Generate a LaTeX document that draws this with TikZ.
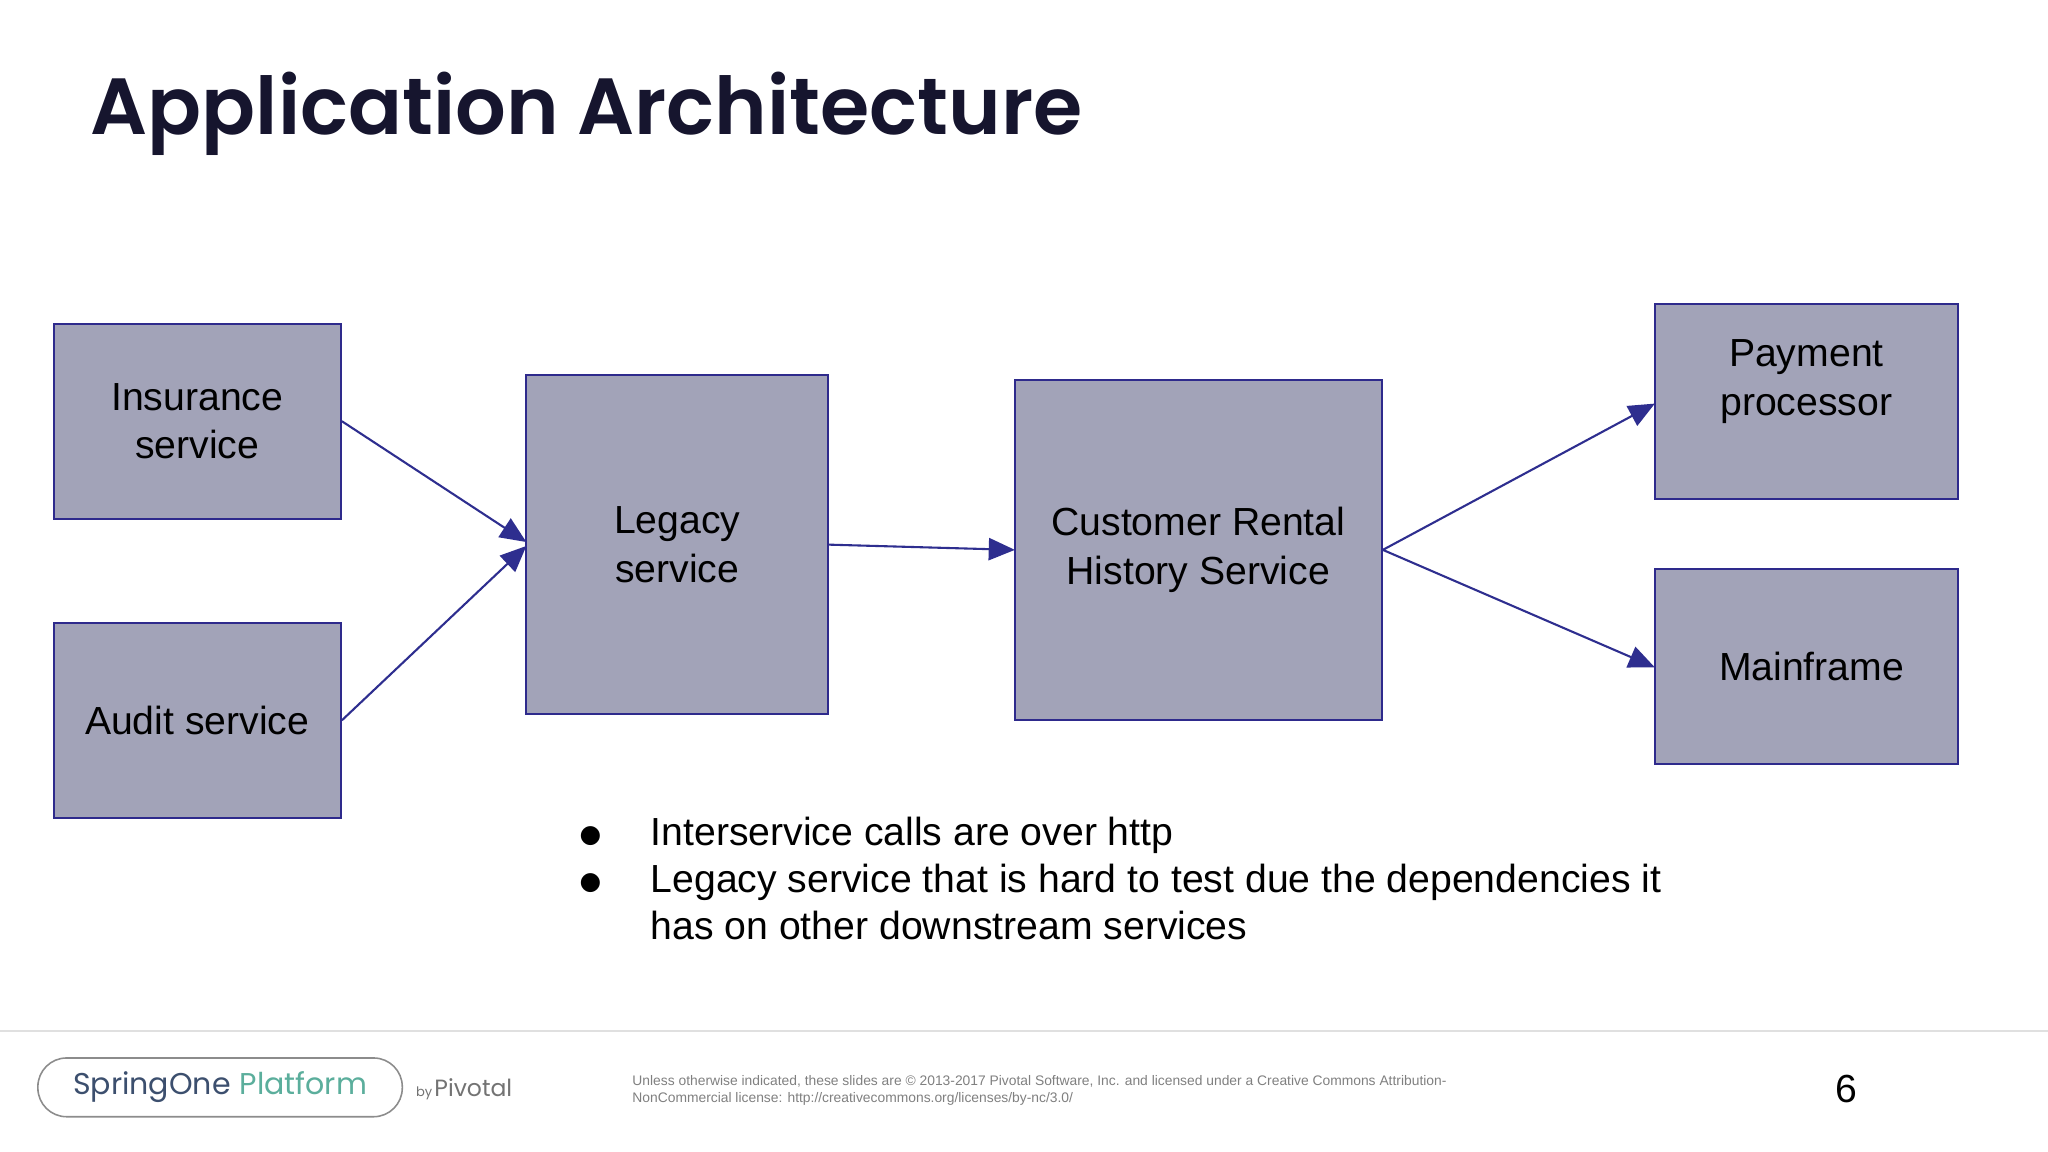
\documentclass[tikz,border=0pt]{standalone}
\usepackage{fontspec}
\setmainfont{Liberation Sans}
\newfontfamily\titlefont{Poppins}[BoldFont={* SemiBold}]
\newfontfamily\logofont{Poppins}
\newfontfamily\symfont{DejaVu Sans}
\usetikzlibrary{arrows.meta}
\definecolor{boxfill}{HTML}{A2A3B8}
\definecolor{boxline}{HTML}{2E2A8C}
\definecolor{arr}{HTML}{2E2E8F}
\definecolor{titlec}{HTML}{16152E}
\tikzset{svc/.style={draw=boxline,line width=1.5pt,fill=boxfill,align=center,font=\fontsize{30}{37}\selectfont,text=black,inner sep=0pt},
conn/.style={draw=arr,line width=1.6pt,-{Triangle[length=20pt,width=17pt]}}}
\begin{document}
\begin{tikzpicture}[x=1pt,y=-1pt]
\useasboundingbox[fill=white] (0,0) rectangle (1568,882);
\node[anchor=west,font=\titlefont\bfseries\fontsize{61}{66}\selectfont,text=titlec] (title) at (66,87) {Application Architecture};
\node[svc,minimum width=220pt,minimum height=149pt] (ins) at (151,322.5) {Insurance\\service};
\node[svc,minimum width=220pt,minimum height=149pt] (aud) at (151,551.5) {Audit service};
\node[svc,minimum width=231pt,minimum height=260pt] (leg) at (518.5,417) {Legacy\\service};
\node[svc,minimum width=281pt,minimum height=260pt] (crh) at (917.5,421) {Customer Rental\\History Service};
\node[svc,minimum width=232pt,minimum height=149pt] (pay) at (1383,307.5) {Payment\\processor\\[0pt]};
\node[svc,minimum width=232pt,minimum height=149pt] (mf) at (1383,510.5) {\hspace*{8pt}Mainframe};
\coordinate (l1) at (403,415);
\coordinate (l2) at (403,418);
\coordinate (c1) at (777,421);
\coordinate (p1) at (1267,309);
\coordinate (m1) at (1267,511);
\draw[conn] (ins.east) -- (l1);
\draw[conn] (aud.east) -- (l2);
\draw[conn] (leg.east) -- (c1);
\draw[conn] (crh.east) -- (p1);
\draw[conn] (crh.east) -- (m1);
\begin{scope}[font=\fontsize{30}{36}\selectfont]
\node[anchor=base] (b1) at (452,645) {\symfont\fontsize{19}{19}\selectfont ●};
\node[anchor=base west,inner sep=0pt] (t1) at (498,647) {Interservice calls are over http};
\node[anchor=base] (b2) at (452,681) {\symfont\fontsize{19}{19}\selectfont ●};
\node[anchor=base west,inner sep=0pt] (t2) at (498,683) {Legacy service that is hard to test due the dependencies it};
\node[anchor=base west,inner sep=0pt] (t3) at (498,719) {has on other downstream services};
\end{scope}
\draw[draw=black!12,line width=1.5pt] (0,789) -- (1568,789);
\node[draw=black!45,line width=1.2pt,rounded corners=22pt,minimum width=279pt,minimum height=45pt,font=\logofont\fontsize{23}{23}\selectfont] (logo) at (168.5,832.5) {\textcolor[HTML]{3C4F6E}{SpringOne}\hspace{7pt}\textcolor[HTML]{5BAE9C}{Platform}};
\node[anchor=west,text=black!55,font=\logofont] (piv) at (315,834) {{\fontsize{10}{10}\selectfont by}\,{\fontsize{18}{18}\selectfont Pivotal}};
\node[anchor=north west,align=left,text=black!50,font=\fontsize{10.6}{13}\selectfont,inner sep=0pt] (lic) at (484,823) {Unless otherwise indicated, these slides are \textcopyright\ 2013-2017 Pivotal Software, Inc. and licensed under a Creative Commons Attribution-\\NonCommercial license: http://creativecommons.org/licenses/by-nc/3.0/};
\node[font=\fontsize{30}{30}\selectfont] (pg) at (1414,834) {6};
\end{tikzpicture}
\end{document}
